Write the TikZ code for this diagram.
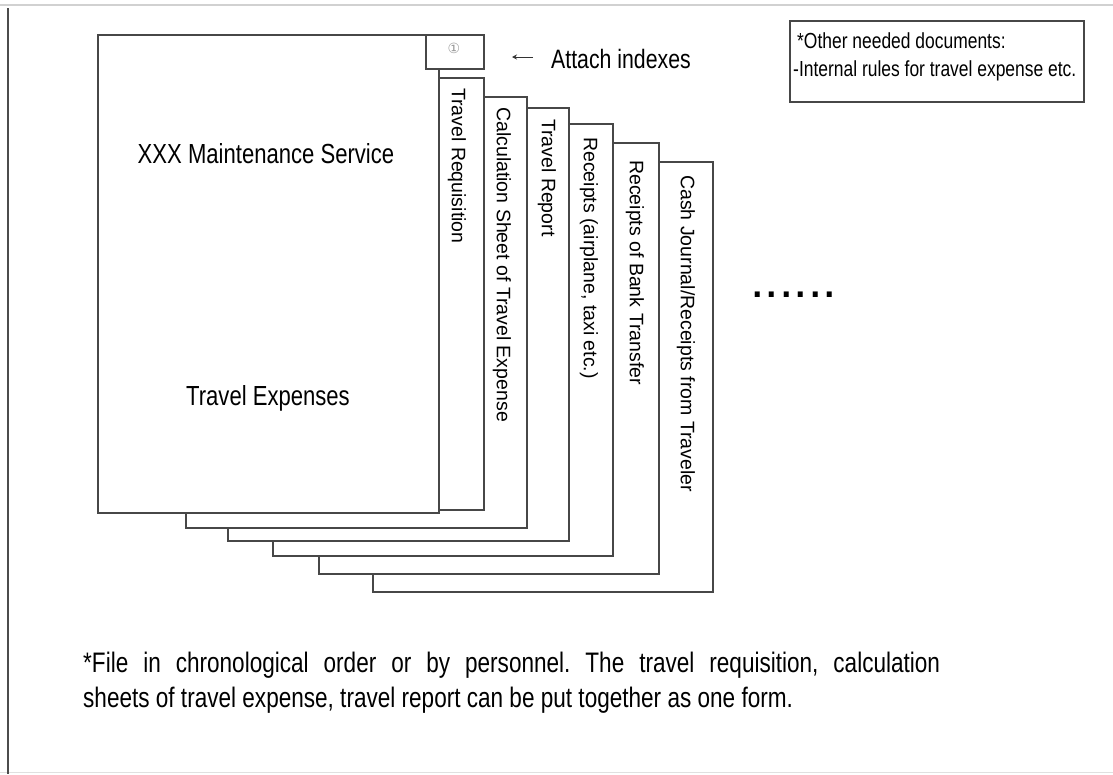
\documentclass[tikz,border=0pt]{standalone}
\usepackage{fontspec}
\setmainfont{Liberation Sans}
\newfontfamily\narrowf{Liberation Sans}[FakeStretch=0.8]
\newfontfamily\symf{DejaVu Sans}
\usetikzlibrary{arrows.meta}
\frenchspacing
\begin{document}
\begin{tikzpicture}[x=1pt,y=-1pt,
  edge/.style={draw=black!72, line width=1.7pt, line join=miter},
  paper/.style={edge, fill=white},
  vlabel/.style={rotate=-90, anchor=west, inner sep=0pt, text=black,
    font=\fontsize{19.5}{20}\selectfont},
  bigtext/.style={inner sep=0pt, font=\narrowf\fontsize{27.6}{30}\selectfont},
  midtext/.style={inner sep=0pt, font=\narrowf\fontsize{26.6}{30}\selectfont},
  notetext/.style={inner sep=0pt, font=\narrowf\fontsize{21.8}{24}\selectfont},
  foottext/.style={inner sep=0pt, font=\narrowf\fontsize{28.2}{35}\selectfont},
  arr/.style={draw=black!80, line width=0.9pt, -{Stealth[length=5pt,width=5pt]}}
]
\useasboundingbox (0,0) rectangle (1113,774);
% frame
\draw[black!18, line width=2pt] (0,5) -- (1113,5);
\draw[black!12, line width=1.5pt] (0,772.5) -- (1113,772.5);
\draw[black!70, line width=2pt] (8,8) -- (8,774);
% stacked sheets, back to front
\draw[paper] (373,162) rectangle (713,592);
\draw[paper] (319,143) rectangle (659,574);
\draw[paper] (273,124) rectangle (613,556);
\draw[paper] (228,108) rectangle (569,541);
\draw[paper] (186,97) rectangle (527,528);
\draw[paper] (150,78) rectangle (484,510);
% cover
\draw[paper] (98,35) rectangle (439,513);
% index tab
\draw[paper] (426,35) rectangle (484,69);
\node[inner sep=0pt, text=black!40, font=\symf\fontsize{14}{14}\selectfont] (idx) at (454,48) {①};
% sheet labels
\node[vlabel] (l1) at (457,88) {Travel Requisition};
\node[vlabel] (l2) at (502,107) {Calculation Sheet of Travel Expense};
\node[vlabel] (l3) at (547,119) {Travel Report};
\node[vlabel] (l4) at (589,137) {Receipts (airplane, taxi etc.)};
\node[vlabel] (l5) at (635,160) {Receipts of Bank Transfer};
\node[vlabel] (l6) at (686,175) {Cash Journal/Receipts from Traveler};
% cover texts
\node[bigtext, anchor=base] (title) at (266,163) {XXX Maintenance Service};
\node[bigtext, anchor=base] (sub) at (268,405) {Travel Expenses};
% attach indexes
\node[midtext, anchor=base west] (attach) at (551,68) {Attach indexes};
\coordinate (tip) at (512,57);
\draw[arr] ([xshift=-18pt]attach.west |- tip) -- (tip);
% dots
\node[inner sep=0pt, anchor=base west, font=\fontsize{52}{52}\selectfont] (dots) at (750,297) {......};
% note box
\draw[edge] (790,21) rectangle (1084,102);
\node[notetext, anchor=base west] (n1) at (797,48) {*Other needed documents:};
\node[notetext, anchor=base west] (n2) at (793,76) {-Internal rules for travel expense etc.};
% footnote
\node[foottext, anchor=base west] (f1) at (83,672) {\makebox[857pt][s]{*File in chronological order or by personnel. The travel requisition, calculation}};
\node[foottext, anchor=base west] (f2) at (83,707) {sheets of travel expense, travel report can be put together as one form.};
\end{tikzpicture}
\end{document}
